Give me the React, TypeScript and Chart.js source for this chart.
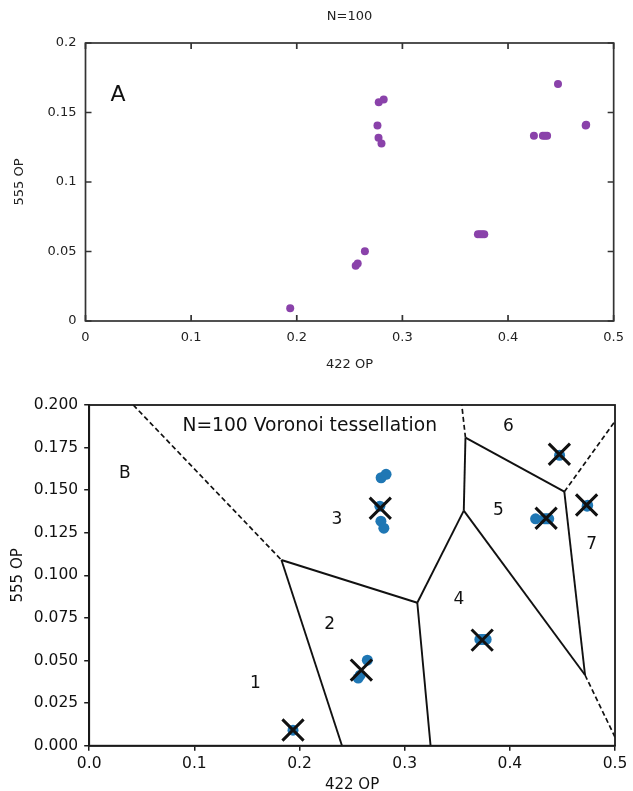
import React, { useEffect, useRef } from "react";
import { Chart, registerables } from "chart.js";

Chart.register(...registerables);
Chart.defaults.font.family = "'DejaVu Sans', sans-serif";

// ---------- shared data ----------
const xTickValues = [0, 0.1, 0.2, 0.3, 0.4, 0.5];
const xTickLabelsA = ["0", "0.1", "0.2", "0.3", "0.4", "0.5"];
const xTickLabelsB = ["0.0", "0.1", "0.2", "0.3", "0.4", "0.5"];
const yTickValuesA = [0, 0.05, 0.1, 0.15, 0.2];
const yTickLabelsA = ["0", "0.05", "0.1", "0.15", "0.2"];
const yTickValuesB = [0, 0.025, 0.05, 0.075, 0.1, 0.125, 0.15, 0.175, 0.2];
const yTickLabelsB = ["0.000", "0.025", "0.050", "0.075", "0.100", "0.125", "0.150", "0.175", "0.200"];

// order parameters (422 OP, 555 OP)
const op422 = [0.1938, 0.2558, 0.2577, 0.2645, 0.2764, 0.2774, 0.2802, 0.2776, 0.2823, 0.3715, 0.3735, 0.3755, 0.3775, 0.4245, 0.433, 0.435, 0.437, 0.4473, 0.4735, 0.474];
const op555 = [0.0091, 0.0397, 0.0414, 0.0502, 0.1406, 0.1318, 0.1277, 0.1573, 0.1593, 0.0624, 0.0624, 0.0624, 0.0624, 0.1332, 0.1332, 0.1332, 0.1332, 0.1705, 0.1406, 0.1412];

// Voronoi generators (X markers)
const centroid422 = [0.1938, 0.2588, 0.2768, 0.3737, 0.4345, 0.4471, 0.473];
const centroid555 = [0.0092, 0.0444, 0.1394, 0.062, 0.1335, 0.1711, 0.1413];

// Voronoi edges (each pair = segment endpoints)
const solidEdgeX = [[0.2404, 0.1828], [0.1828, 0.312], [0.312, 0.3246], [0.312, 0.3562], [0.3562, 0.3578], [0.3578, 0.4518], [0.4518, 0.4715], [0.3562, 0.4715]];
const solidEdgeY = [[0, 0.109], [0.109, 0.0839], [0.0839, 0], [0.0839, 0.138], [0.138, 0.1808], [0.1808, 0.1491], [0.1491, 0.0415], [0.138, 0.0415]];
const dashedEdgeX = [[0.0419, 0.1828], [0.3578, 0.3543], [0.4518, 0.5], [0.4715, 0.5]];
const dashedEdgeY = [[0.2, 0.109], [0.1808, 0.2], [0.1491, 0.1905], [0.0415, 0.005]];

// region labels
const regionText = ["B", "1", "2", "3", "4", "5", "6", "7"];
const region422 = [0.034, 0.1581, 0.2287, 0.2356, 0.3515, 0.3892, 0.3987, 0.4778];
const region555 = [0.16, 0.0366, 0.0709, 0.1329, 0.0859, 0.138, 0.1873, 0.1178];

const titleA = "N=100";
const panelA = "A";
const panelALoc = [0.0307, 0.1626];
const titleB = "N=100 Voronoi tessellation";
const titleBLoc = [0.2097, 0.1873];
const xTitle = "422 OP";
const yTitle = "555 OP";

const PURPLE = "rgb(138, 66, 170)";
const BLUE = "#1f77b4";
const FONT = "'DejaVu Sans', sans-serif";

function TopChart() {
  const ref = useRef<HTMLCanvasElement>(null);
  useEffect(() => {
    const frame = {
      id: "frameA",
      beforeDatasetsDraw(chart: any) {
        const { ctx, chartArea: a, scales } = chart;
        ctx.save();
        ctx.strokeStyle = "#333";
        ctx.lineWidth = 1.7;
        ctx.strokeRect(a.left, a.top, a.right - a.left, a.bottom - a.top);
        ctx.beginPath();
        const L = 6;
        for (const v of xTickValues) {
          const px = scales.x.getPixelForValue(v);
          ctx.moveTo(px, a.bottom); ctx.lineTo(px, a.bottom - L);
          ctx.moveTo(px, a.top); ctx.lineTo(px, a.top + L);
        }
        for (const v of yTickValuesA) {
          const py = scales.y.getPixelForValue(v);
          ctx.moveTo(a.left, py); ctx.lineTo(a.left + L, py);
          ctx.moveTo(a.right, py); ctx.lineTo(a.right - L, py);
        }
        ctx.stroke();
        ctx.restore();
      },
      afterDraw(chart: any) {
        const { ctx, chartArea: a, scales } = chart;
        ctx.save();
        ctx.fillStyle = "#222";
        ctx.textAlign = "center";
        ctx.textBaseline = "middle";
        const cx = (a.left + a.right) / 2;
        const cy = (a.top + a.bottom) / 2;
        ctx.font = `13px ${FONT}`;
        ctx.fillText(titleA, cx, 17);
        ctx.fillText(xTitle, cx, 365);
        ctx.save();
        ctx.translate(20, cy);
        ctx.rotate(-Math.PI / 2);
        ctx.fillText(yTitle, 0, 0);
        ctx.restore();
        ctx.font = `22px ${FONT}`;
        ctx.fillStyle = "#111";
        ctx.fillText(panelA, scales.x.getPixelForValue(panelALoc[0]), scales.y.getPixelForValue(panelALoc[1]));
        ctx.restore();
      },
    };
    const chart = new Chart(ref.current!, {
      type: "scatter",
      data: {
        datasets: [
          {
            data: op422.map((x, i) => ({ x, y: op555[i] })),
            pointRadius: 4,
            pointBackgroundColor: PURPLE,
            pointBorderColor: PURPLE,
            pointBorderWidth: 0,
          },
        ],
      },
      options: {
        responsive: false,
        animation: false,
        layout: { padding: { left: 0, right: 13, top: 43, bottom: 0 } },
        plugins: { legend: { display: false }, tooltip: { enabled: false } },
        scales: {
          x: {
            type: "linear",
            min: 0,
            max: 0.5,
            afterBuildTicks: (s: any) => { s.ticks = xTickValues.map((v) => ({ value: v })); },
            afterFit: (s: any) => { s.height = 55; },
            grid: { display: false, drawTicks: false },
            border: { display: false },
            ticks: { autoSkip: false, maxRotation: 0, padding: 9, color: "#222", font: { size: 13 }, callback: (_v: any, i: number) => xTickLabelsA[i] },
          },
          y: {
            type: "linear",
            min: 0,
            max: 0.2,
            afterBuildTicks: (s: any) => { s.ticks = yTickValuesA.map((v) => ({ value: v })); },
            afterFit: (s: any) => { s.width = 85.5; },
            grid: { display: false, drawTicks: false },
            border: { display: false },
            ticks: { autoSkip: false, padding: 9, color: "#222", font: { size: 13 }, callback: (_v: any, i: number) => yTickLabelsA[i] },
          },
        },
      } as any,
      plugins: [frame],
    });
    return () => chart.destroy();
  }, []);
  return <canvas ref={ref} width={633} height={376} style={{ position: "absolute", left: 0, top: 0 }} />;
}

function BottomChart() {
  const ref = useRef<HTMLCanvasElement>(null);
  useEffect(() => {
    const frame = {
      id: "frameB",
      afterDatasetsDraw(chart: any) {
        const { ctx, chartArea: a } = chart;
        ctx.save();
        ctx.strokeStyle = "#1a1a1a";
        ctx.lineWidth = 1.8;
        ctx.strokeRect(a.left, a.top, a.right - a.left, a.bottom - a.top);
        ctx.restore();
      },
      afterDraw(chart: any) {
        const { ctx, chartArea: a, scales } = chart;
        ctx.save();
        ctx.fillStyle = "#111";
        ctx.textAlign = "center";
        ctx.textBaseline = "middle";
        const cx = (a.left + a.right) / 2;
        const cy = (a.top + a.bottom) / 2;
        ctx.font = `15px ${FONT}`;
        ctx.fillText(xTitle, cx, 409);
        ctx.save();
        ctx.translate(18, cy);
        ctx.rotate(-Math.PI / 2);
        ctx.fillText(yTitle, 0, 0);
        ctx.restore();
        ctx.font = `18.7px ${FONT}`;
        ctx.fillText(titleB, scales.x.getPixelForValue(titleBLoc[0]), scales.y.getPixelForValue(titleBLoc[1]));
        ctx.font = `17px ${FONT}`;
        regionText.forEach((t, i) => {
          ctx.fillText(t, scales.x.getPixelForValue(region422[i]), scales.y.getPixelForValue(region555[i]));
        });
        ctx.restore();
      },
    };
    const edgeSets: any[] = [];
    solidEdgeX.forEach((xs, i) => {
      edgeSets.push({
        data: xs.map((x, j) => ({ x, y: solidEdgeY[i][j] })),
        showLine: true,
        borderColor: "#111",
        borderWidth: 1.9,
        pointRadius: 0,
        order: 3,
      });
    });
    dashedEdgeX.forEach((xs, i) => {
      edgeSets.push({
        data: xs.map((x, j) => ({ x, y: dashedEdgeY[i][j] })),
        showLine: true,
        borderColor: "#111",
        borderWidth: 1.7,
        borderDash: [5, 3],
        pointRadius: 0,
        order: 3,
      });
    });
    const chart = new Chart(ref.current!, {
      type: "scatter",
      data: {
        datasets: [
          {
            data: centroid422.map((x, i) => ({ x, y: centroid555[i] })),
            pointStyle: "crossRot",
            pointRadius: 15,
            pointBorderWidth: 3,
            pointBorderColor: "#111",
            order: 0,
          },
          {
            data: op422.map((x, i) => ({ x, y: op555[i] })),
            pointRadius: 5.5,
            pointBackgroundColor: BLUE,
            pointBorderColor: BLUE,
            pointBorderWidth: 0,
            order: 1,
          },
          ...edgeSets,
        ],
      },
      options: {
        responsive: false,
        animation: false,
        layout: { padding: { left: 0, right: 17.3, top: 29, bottom: 0 } },
        plugins: { legend: { display: false }, tooltip: { enabled: false } },
        scales: {
          x: {
            type: "linear",
            min: 0,
            max: 0.5,
            afterBuildTicks: (s: any) => { s.ticks = xTickValues.map((v) => ({ value: v })); },
            afterFit: (s: any) => { s.height = 45.3; },
            grid: { display: true, drawOnChartArea: false, drawTicks: true, tickLength: 5, color: "#1a1a1a", lineWidth: 1.5 },
            border: { display: true, color: "#1a1a1a", width: 1.8 },
            ticks: { autoSkip: false, maxRotation: 0, padding: 4, color: "#111", font: { size: 15.5 }, callback: (_v: any, i: number) => xTickLabelsB[i] },
          },
          y: {
            type: "linear",
            min: 0,
            max: 0.2,
            afterBuildTicks: (s: any) => { s.ticks = yTickValuesB.map((v) => ({ value: v })); },
            afterFit: (s: any) => { s.width = 89.2; },
            grid: { display: true, drawOnChartArea: false, drawTicks: true, tickLength: 5, color: "#1a1a1a", lineWidth: 1.5 },
            border: { display: true, color: "#1a1a1a", width: 1.8 },
            ticks: { autoSkip: false, padding: 6, color: "#111", font: { size: 15.5 }, callback: (_v: any, i: number) => yTickLabelsB[i] },
          },
        },
      } as any,
      plugins: [frame],
    });
    return () => chart.destroy();
  }, []);
  return <canvas ref={ref} width={633} height={415} style={{ position: "absolute", left: 0, top: 376 }} />;
}

export default function App() {
  return (
    <div style={{ position: "absolute", left: 0, top: 0, width: 633, height: 791, background: "#fff" }}>
      <TopChart />
      <BottomChart />
    </div>
  );
}
